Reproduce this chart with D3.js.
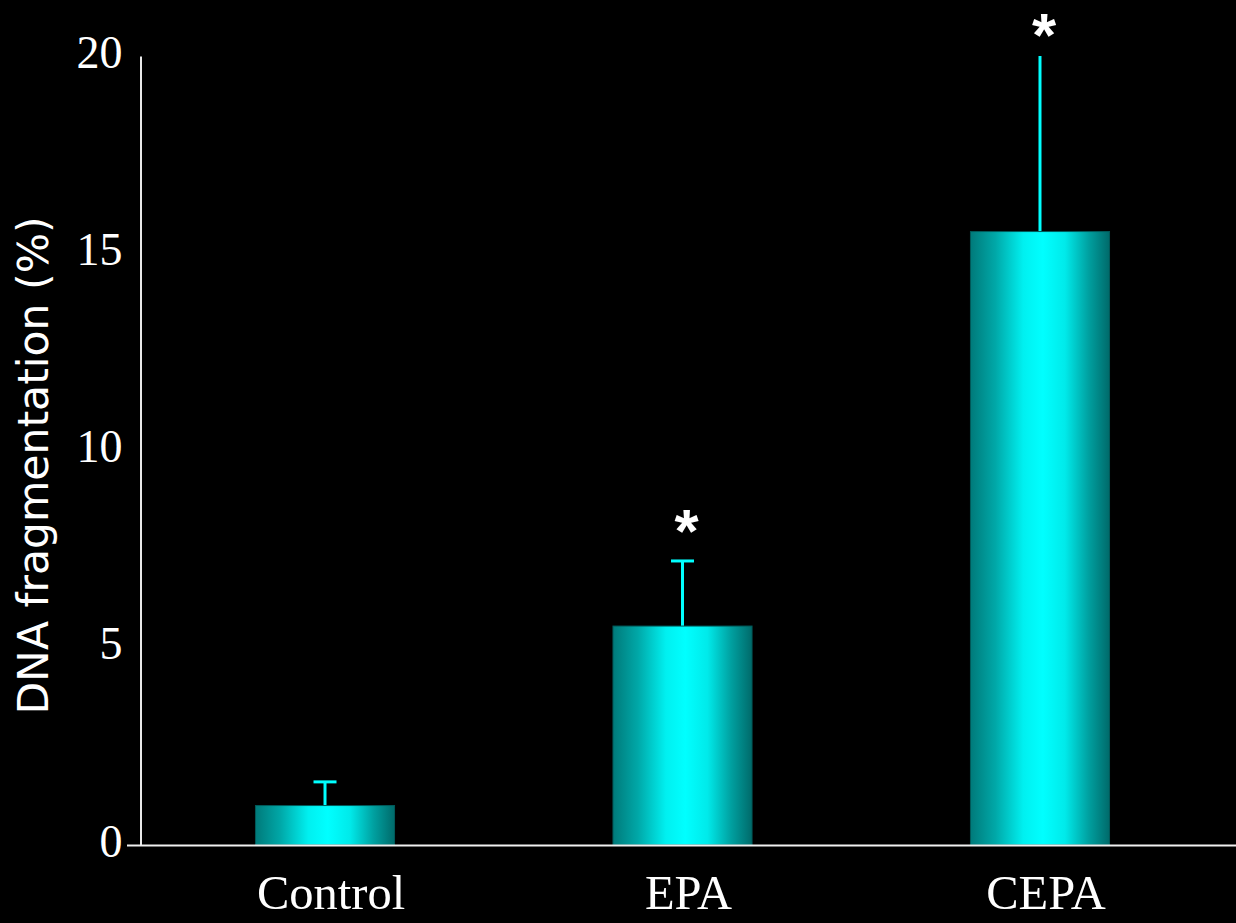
<!DOCTYPE html>
<html>
<head>
<meta charset="utf-8">
<script src="https://cdn.jsdelivr.net/npm/d3@7"></script>
<style>
  html, body { margin: 0; padding: 0; background: #000; }
  svg { display: block; }
</style>
</head>
<body>
<svg id="chart" width="1236" height="923"></svg>
<script>
// DNA fragmentation by treatment group (mean + upper error)
const categories = ["Control", "EPA", "CEPA"];
const means = [1.0, 5.55, 15.55];
const errors = [0.6, 1.65, 4.6];
const significant = [false, true, true];
const yTicks = [0, 5, 10, 15, 20];

const W = 1236, H = 923;
const svg = d3.select("#chart");

svg.append("rect").attr("width", W).attr("height", H).attr("fill", "#000");

const y = d3.scaleLinear().domain([0, 20]).range([845, 56]);
const x = d3.scaleBand()
  .domain(categories)
  .range([135, 1230])
  .paddingInner(0.611)
  .paddingOuter(0.337);

// horizontal shading of the bars: dark teal edges, bright cyan middle
const defs = svg.append("defs");
const grad = defs.append("linearGradient")
  .attr("id", "barShade")
  .attr("x1", "0%").attr("x2", "100%").attr("y1", "0%").attr("y2", "0%");
[
  [0, "#007a7a"],
  [0.18, "#00a8a8"],
  [0.38, "#00f0f0"],
  [0.52, "#00ffff"],
  [0.68, "#00eaea"],
  [0.85, "#00a0a0"],
  [1, "#006a6a"]
].forEach(([o, c]) => grad.append("stop").attr("offset", o).attr("stop-color", c));

const data = categories.map((c, i) => ({
  cat: c, mean: means[i], err: errors[i], sig: significant[i]
}));

// error bars (upper only), clipped at the top of the axis
const yMax = y.domain()[1];
const errTop = d => y(Math.min(d.mean + d.err, yMax));
const eb = svg.append("g").selectAll("g").data(data).join("g");
eb.append("line")
  .attr("x1", d => x(d.cat) + x.bandwidth() / 2)
  .attr("x2", d => x(d.cat) + x.bandwidth() / 2)
  .attr("y1", d => y(d.mean))
  .attr("y2", errTop)
  .attr("stroke", "#00ffff")
  .attr("stroke-width", 3);
eb.filter(d => d.mean + d.err <= yMax)
  .append("line")
  .attr("x1", d => x(d.cat) + x.bandwidth() / 2 - 11.5)
  .attr("x2", d => x(d.cat) + x.bandwidth() / 2 + 11.5)
  .attr("y1", d => y(d.mean + d.err))
  .attr("y2", d => y(d.mean + d.err))
  .attr("stroke", "#00ffff")
  .attr("stroke-width", 3);

// bars
svg.append("g").selectAll("rect").data(data).join("rect")
  .attr("x", d => x(d.cat))
  .attr("y", d => y(d.mean))
  .attr("width", x.bandwidth())
  .attr("height", d => y(0) - y(d.mean))
  .attr("fill", "url(#barShade)")
  .attr("stroke", "#005a5a")
  .attr("stroke-width", 1);

// significance markers, kept inside the drawing area
const starSize = 62;
svg.append("g").selectAll("text").data(data.filter(d => d.sig)).join("text")
  .attr("x", d => x(d.cat) + x.bandwidth() / 2 + 4)
  .attr("y", d => Math.max(errTop(d) - 44, starSize * 0.35) + starSize * 0.56)
  .attr("text-anchor", "middle")
  .attr("font-family", "'Liberation Sans', Arial, sans-serif")
  .attr("font-weight", "bold")
  .attr("font-size", starSize)
  .attr("fill", "#fff")
  .text("*");

// y axis
const yAxis = d3.axisLeft(y).tickValues(yTicks).tickSize(0).tickPadding(18);
const gy = svg.append("g").attr("transform", "translate(140.5,0)").call(yAxis);
gy.select(".domain").attr("stroke", "#e8e8e8").attr("stroke-width", 2);
gy.selectAll("text")
  .attr("fill", "#fff")
  .attr("font-family", "'Liberation Serif', 'Times New Roman', serif")
  .attr("font-size", 46)
  .attr("dy", "0.24em");

// x axis baseline
const xAxis = d3.axisBottom(x).tickSize(0).tickPadding(0);
const gx = svg.append("g").attr("transform", "translate(0,845.5)").call(xAxis);
gx.select(".domain").remove();
gx.append("line")
  .attr("x1", 127).attr("x2", W)
  .attr("stroke", "#f0f0f0").attr("stroke-width", 2);
gx.selectAll(".tick text")
  .attr("fill", "#fff")
  .attr("font-family", "'Liberation Serif', 'Times New Roman', serif")
  .attr("font-size", 48.5)
  .attr("x", 6)
  .attr("y", 63)
  .attr("dy", 0);

// y axis title
svg.append("text")
  .attr("transform", "translate(48,465.5) rotate(-90)")
  .attr("text-anchor", "middle")
  .attr("font-family", "'DejaVu Sans', Verdana, sans-serif")
  .attr("font-size", 42.5)
  .attr("fill", "#fff")
  .text("DNA fragmentation (%)");
</script>
</body>
</html>
